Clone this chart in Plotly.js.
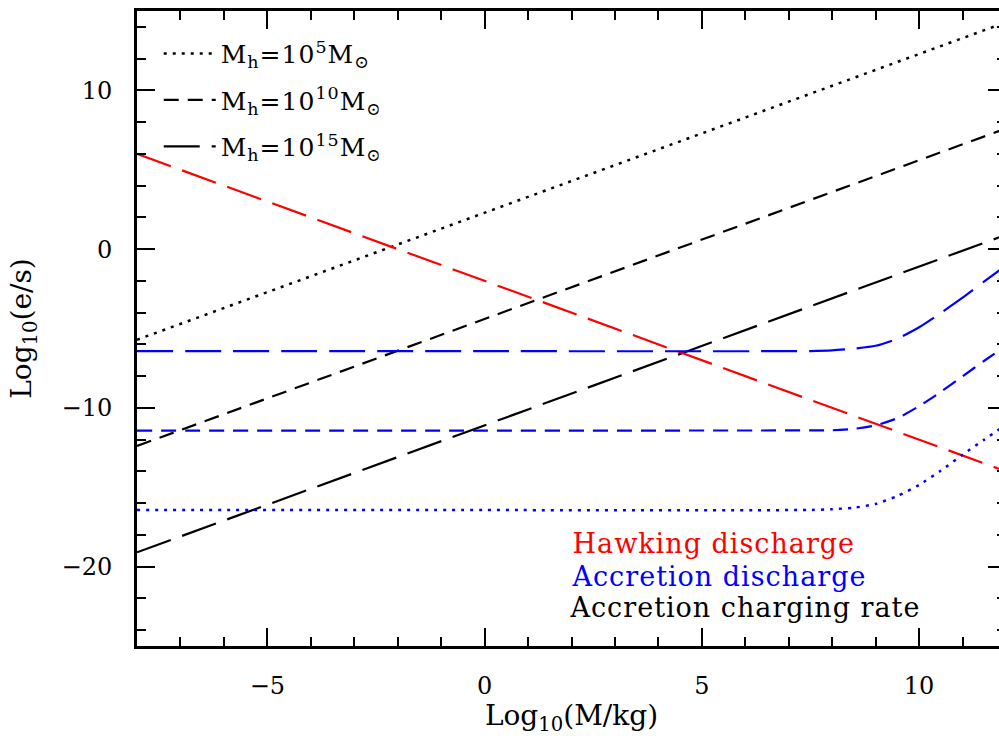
<!DOCTYPE html>
<html>
<head>
<meta charset="utf-8">
<script src="https://cdn.plot.ly/plotly-3.0.1.min.js"></script>
<style>
  html, body { margin: 0; padding: 0; overflow: hidden; background: #fff; }
  #chart { width: 1010px; height: 736px; }
  #chart .annotation-text, #chart .legendtext { letter-spacing: 1px; }
</style>
</head>
<body>
<div id="chart"></div>
<script>
// Straight lines (log10 M/kg vs log10 e/s)
var lineX = [-8, 0, 12];
var hawking = [6.0, -2.0, -14.0];
var chargeMh5 = [-5.71, 2.29, 14.29];
var chargeMh10 = [-12.4, -4.4, 7.6];
var chargeMh15 = [-19.1, -11.1, 0.9];

// Accretion discharge curves
var accX = [-8, 0, 7.5, 8, 8.5, 9, 9.5, 10, 10.5, 11, 11.5, 12];
var accMh15 = [-6.43, -6.43, -6.42, -6.38, -6.27, -6.09, -5.64, -4.92, -4.02, -3.06, -2.03, -1.04];
var accMh10 = [-11.43, -11.43, -11.42, -11.41, -11.32, -11.10, -10.65, -9.89, -8.99, -8.01, -7.03, -6.08];
var accMh5 = [-16.44, -16.44, -16.43, -16.38, -16.29, -16.05, -15.55, -14.85, -13.95, -12.95, -12.00, -11.05];

var legendNames = [
  'M<sub>h</sub>=10<sup>5</sup>M<sub>⊙</sub>',
  'M<sub>h</sub>=10<sup>10</sup>M<sub>⊙</sub>',
  'M<sub>h</sub>=10<sup>15</sup>M<sub>⊙</sub>'
];
var labelTexts = ['Hawking discharge', 'Accretion discharge', 'Accretion charging rate'];
var labelColors = ['#ff0000', '#0000ff', '#000000'];
var labelY = [-18.55, -20.6, -22.55];

var DOT = '3px,6px';
var SHORT = '15px,9px';
var LONG = '36px,12px';
var FONT = 'DejaVu Serif, serif';

var traces = [
  {x: lineX, y: chargeMh5, mode: 'lines', name: legendNames[0], legendgroup: 'a',
   line: {color: '#000', width: 2.5, dash: DOT}},
  {x: lineX, y: chargeMh10, mode: 'lines', name: legendNames[1], legendgroup: 'b',
   line: {color: '#000', width: 2.2, dash: SHORT}},
  {x: lineX, y: chargeMh15, mode: 'lines', name: legendNames[2], legendgroup: 'c',
   line: {color: '#000', width: 2.2, dash: LONG}},
  {x: lineX, y: hawking, mode: 'lines', showlegend: false,
   line: {color: '#ff0000', width: 2.2, dash: LONG}},
  {x: accX, y: accMh15, mode: 'lines', showlegend: false,
   line: {color: '#0000ff', width: 2.2, dash: LONG, shape: 'spline', smoothing: 0.6}},
  {x: accX, y: accMh10, mode: 'lines', showlegend: false,
   line: {color: '#0000ff', width: 2.2, dash: SHORT, shape: 'spline', smoothing: 0.6}},
  {x: accX, y: accMh5, mode: 'lines', showlegend: false,
   line: {color: '#0000ff', width: 2.5, dash: DOT, shape: 'spline', smoothing: 0.6}}
];

var annotations = labelTexts.map(function (t, i) {
  return {x: 2.18, y: labelY[i], xref: 'x', yref: 'y', text: t, showarrow: false,
          xanchor: 'left', yanchor: 'middle', font: {family: FONT, size: 27, color: labelColors[i]}};
});

var axisCommon = {
  showgrid: false, zeroline: false, showline: true, linewidth: 3, linecolor: '#000',
  mirror: 'ticks', ticks: 'inside', ticklen: 18, tickwidth: 2, tickcolor: '#000',
  tickfont: {family: FONT, size: 24, color: '#000'}
};

var layout = {
  width: 1010, height: 736,
  margin: {l: 137, r: 4, t: 11, b: 90},
  paper_bgcolor: '#fff', plot_bgcolor: '#fff',
  showlegend: true,
  legend: {x: 0.025, y: 0.969, xanchor: 'left', yanchor: 'top', bgcolor: 'rgba(0,0,0,0)',
           font: {family: FONT, size: 25, color: '#000'}, itemwidth: 52, tracegroupgap: 11},
  xaxis: Object.assign({}, axisCommon, {
    range: [-8, 12], dtick: 5, tick0: 0, ticklabelstandoff: 16,
    minor: {dtick: 1, ticklen: 9, tickwidth: 2, tickcolor: '#000', ticks: 'inside'},
    title: {text: 'Log<sub>10</sub>(M/kg)', font: {family: FONT, size: 28, color: '#000'}, standoff: 13}
  }),
  yaxis: Object.assign({}, axisCommon, {
    range: [-25, 15], dtick: 10, tick0: 0, ticklabelstandoff: 17,
    minor: {dtick: 2, ticklen: 9, tickwidth: 2, tickcolor: '#000', ticks: 'inside'},
    title: {text: 'Log<sub>10</sub>(e/s)', font: {family: FONT, size: 28, color: '#000'}, standoff: 22}
  }),
  annotations: annotations
};

Plotly.newPlot('chart', traces, layout, {displayModeBar: false, staticPlot: true});
</script>
</body>
</html>
